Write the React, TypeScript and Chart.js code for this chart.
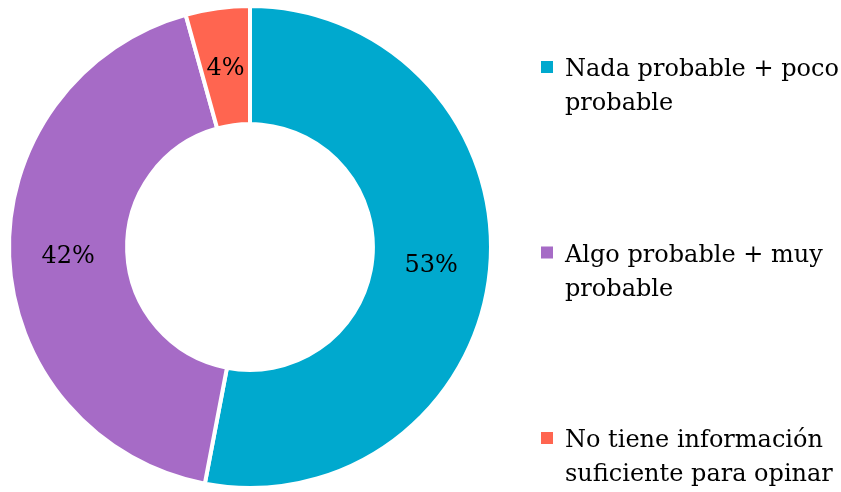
import React, { useEffect, useRef } from "react";
import { Chart, registerables } from "chart.js";

Chart.register(...registerables);

const categories = [
  "Nada probable + poco probable",
  "Algo probable + muy probable",
  "No tiene información suficiente para opinar",
];
const values = [53.0, 42.7, 4.3];
const valueLabels = ["53%", "42%", "4%"];
const colors = ["#00A9CE", "#A66BC6", "#FF6550"];

const FONT_FAMILY = '"DejaVu Serif", serif';
const FONT_SIZE = 24;

function wrapText(ctx: CanvasRenderingContext2D, text: string, maxWidth: number): string[] {
  const words = text.split(" ");
  const lines: string[] = [];
  let line = "";
  for (const w of words) {
    const test = line ? line + " " + w : w;
    if (ctx.measureText(test).width > maxWidth && line) {
      lines.push(line);
      line = w;
    } else {
      line = test;
    }
  }
  if (line) lines.push(line);
  return lines;
}

const valueLabelPlugin = {
  id: "valueLabels",
  afterDatasetsDraw(chart: any) {
    const ctx = chart.ctx as CanvasRenderingContext2D;
    const meta = chart.getDatasetMeta(0);
    ctx.save();
    ctx.font = `${FONT_SIZE}px ${FONT_FAMILY}`;
    ctx.fillStyle = "#000";
    ctx.textAlign = "center";
    ctx.textBaseline = "middle";
    meta.data.forEach((arc: any, i: number) => {
      const p = arc.tooltipPosition();
      ctx.fillText(valueLabels[i], p.x, p.y + 2);
    });
    ctx.restore();
  },
};

const sideLegendPlugin = {
  id: "sideLegend",
  afterDraw(chart: any) {
    const ctx = chart.ctx as CanvasRenderingContext2D;
    const markerX = 541;
    const markerSize = 12;
    const textX = 565;
    const firstBaseline = 76;
    const itemStep = 185.5;
    const lineHeight = 34;
    ctx.save();
    ctx.font = `${FONT_SIZE}px ${FONT_FAMILY}`;
    ctx.textAlign = "left";
    ctx.textBaseline = "alphabetic";
    categories.forEach((cat, i) => {
      const base = firstBaseline + i * itemStep;
      ctx.fillStyle = colors[i];
      ctx.fillRect(markerX, base - 9 - markerSize / 2, markerSize, markerSize);
      ctx.fillStyle = "#000";
      const lines = wrapText(ctx, cat, 278);
      lines.forEach((ln, j) => ctx.fillText(ln, textX, base + j * lineHeight));
    });
    ctx.restore();
  },
};

export default function App() {
  const canvasRef = useRef<HTMLCanvasElement | null>(null);

  useEffect(() => {
    const canvas = canvasRef.current;
    if (!canvas) return;
    const chart = new Chart(canvas, {
      type: "doughnut",
      data: {
        labels: categories,
        datasets: [
          {
            data: values,
            backgroundColor: colors,
            borderColor: "#FFFFFF",
            borderWidth: 4,
            hoverOffset: 0,
          },
        ],
      },
      options: {
        responsive: false,
        devicePixelRatio: 1,
        animation: false,
        cutout: "51%",
        layout: { padding: { left: 7, right: 348, top: 4, bottom: 2 } },
        plugins: {
          legend: { display: false },
          tooltip: { enabled: false },
        },
      },
      plugins: [valueLabelPlugin, sideLegendPlugin],
    });
    return () => chart.destroy();
  }, []);

  return (
    <div style={{ position: "fixed", left: 0, top: 0, width: 841, height: 492, background: "#fff" }}>
      <canvas ref={canvasRef} width={841} height={492} style={{ display: "block" }} />
    </div>
  );
}
